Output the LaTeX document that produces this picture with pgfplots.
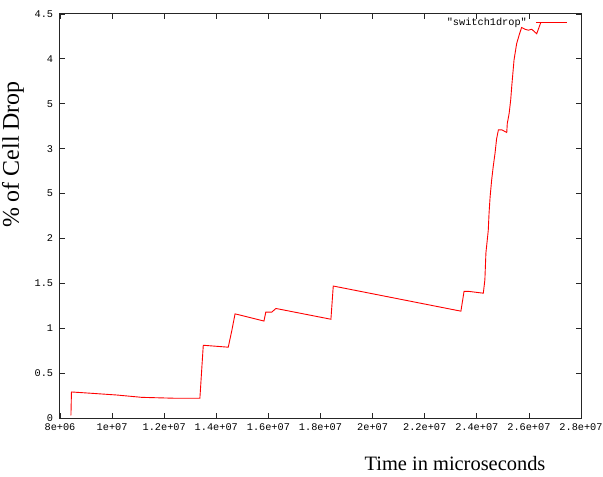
\documentclass[border=0pt]{standalone}
\usepackage{pgfplots}
\pgfplotsset{compat=1.18}
\usepackage{fontspec}
\setmainfont{Liberation Serif}
\setmonofont{Liberation Mono}

\newcommand\tickfont{\ttfamily\fontsize{10.3}{12}\selectfont}

\begin{document}
\begin{tikzpicture}
\begin{axis}[
  at={(0,0)}, anchor=south west,
  scale only axis, width=521bp, height=404bp,
  xmin=8e6, xmax=2.8e7, ymin=0, ymax=4.5,
  xtick={8e6,1e7,1.2e7,1.4e7,1.6e7,1.8e7,2e7,2.2e7,2.4e7,2.6e7,2.8e7},
  xticklabels={8e+06,1e+07,1.2e+07,1.4e+07,1.6e+07,1.8e+07,2e+07,2.2e+07,2.4e+07,2.6e+07,2.8e+07},
  ytick={0,0.5,1,1.5,2,2.5,3,3.5,4,4.5},
  yticklabels={0,0.5,1,1.5,2,5,3,5,4,4.5},
  scaled x ticks=false,
  /pgf/number format/assume math mode=true,
  tick label style={font=\tickfont},
  xticklabel style={inner sep=0pt, anchor=north, yshift=-5bp},
  yticklabel style={inner sep=0pt, anchor=east, xshift=-6.7bp},
  major tick length=5bp,
  tick style={black!85, line width=0.8bp},
  axis line style={black!85, line width=1bp},
  xlabel={Time in microseconds},
  ylabel={\% of Cell Drop},
  xlabel style={at={(rel axis cs:0.7582,0)}, anchor=base, yshift=-52bp,
                font=\fontsize{20.5}{24}\selectfont},
  ylabel style={at={([xshift=-41bp]rel axis cs:0,0.652)}, anchor=base,
                font=\fontsize{24}{28}\selectfont},
  legend plot pos=right,
  legend image code/.code={\draw[#1] (0bp,0bp) -- (31bp,0bp);},
  legend style={draw=none, fill=none, inner sep=0pt, font=\tickfont,
                at={(rel axis cs:0.975,0.979)}, anchor=east,
                /tikz/every odd column/.append style={column sep=7bp}},
]
\addplot[red, line width=0.9bp] coordinates {
  (8.42e6,0.03) (8.44e6,0.29)
  (9.22e6,0.275) (10.18e6,0.256) (11.14e6,0.23) (12.41e6,0.22) (13.37e6,0.22)
  (13.50e6,0.81) (14.40e6,0.79) (14.46e6,0.79) (14.60e6,0.98) (14.72e6,1.16)
  (15.83e6,1.08) (15.90e6,1.18) (16.13e6,1.18) (16.29e6,1.22)
  (18.40e6,1.10) (18.49e6,1.47)
  (23.39e6,1.19) (23.51e6,1.41) (23.70e6,1.41) (24.25e6,1.39)
  (24.31e6,1.54) (24.35e6,1.84) (24.44e6,2.09) (24.47e6,2.28) (24.51e6,2.46)
  (24.57e6,2.65) (24.63e6,2.80) (24.70e6,2.95) (24.76e6,3.11) (24.83e6,3.21)
  (24.96e6,3.21) (25.15e6,3.18) (25.17e6,3.28) (25.24e6,3.39) (25.30e6,3.54)
  (25.34e6,3.69) (25.43e6,3.99) (25.53e6,4.17) (25.63e6,4.27) (25.72e6,4.35)
  (25.85e6,4.33) (25.98e6,4.32) (26.11e6,4.33) (26.30e6,4.28) (26.45e6,4.40)
};
\addlegendentry{"switch1drop"}
\end{axis}
\pgfresetboundingbox
\path[use as bounding box] (-60bp,-59bp) rectangle (543bp,418bp);
\end{tikzpicture}
\end{document}
